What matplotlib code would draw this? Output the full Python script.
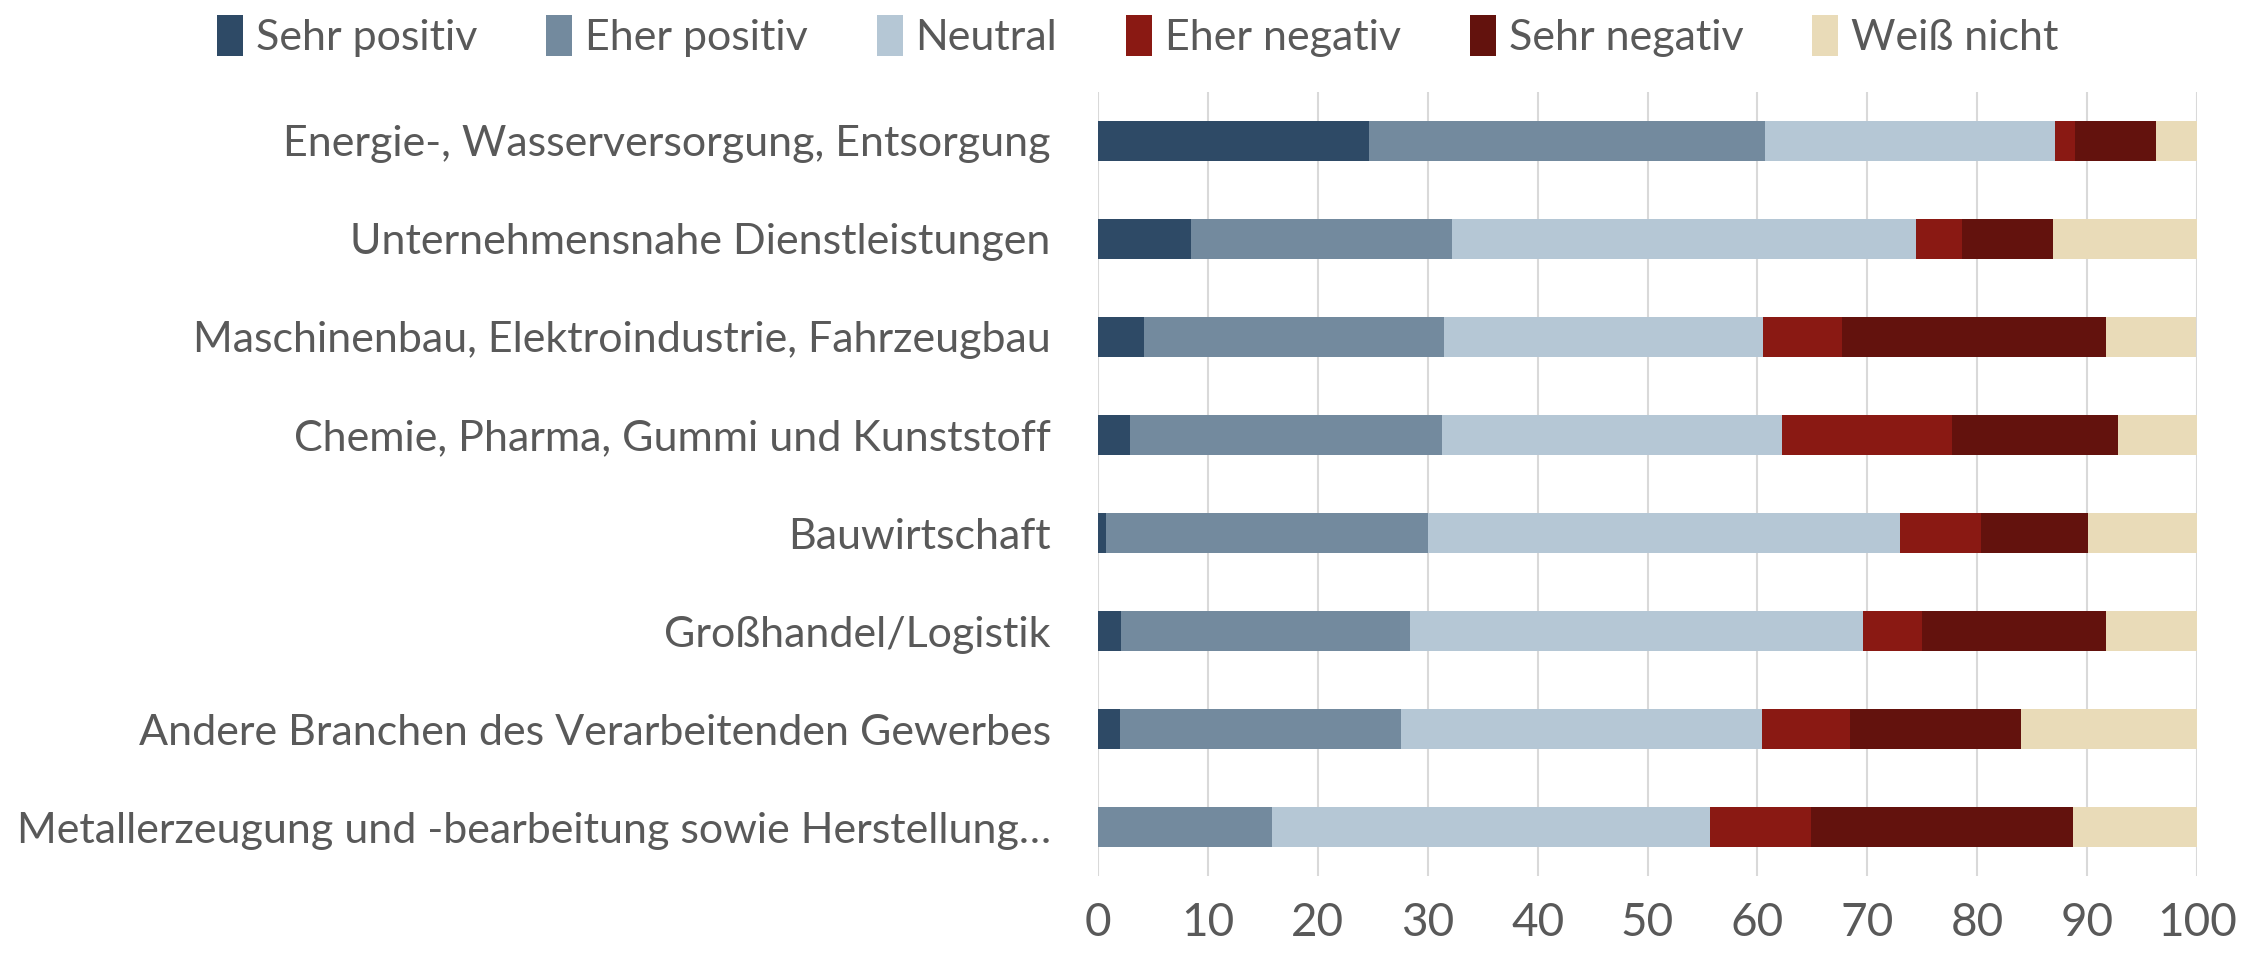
import numpy as np
import matplotlib
matplotlib.use("Agg")
import matplotlib.pyplot as plt

plt.rcParams["font.family"] = ["Lato", "DejaVu Sans"]

categories = [
    "Energie-, Wasserversorgung, Entsorgung",
    "Unternehmensnahe Dienstleistungen",
    "Maschinenbau, Elektroindustrie, Fahrzeugbau",
    "Chemie, Pharma, Gummi und Kunststoff",
    "Bauwirtschaft",
    "Großhandel/Logistik",
    "Andere Branchen des Verarbeitenden Gewerbes",
    "Metallerzeugung und -bearbeitung sowie Herstellung…",
]
series_names = ["Sehr positiv", "Eher positiv", "Neutral", "Eher negativ", "Sehr negativ", "Weiß nicht"]

sehr_positiv = [24.7, 8.5, 4.2, 2.9, 0.7, 2.1, 2.0, 0.0]
eher_positiv = [36.0, 23.7, 27.3, 28.4, 29.3, 26.3, 25.6, 15.8]
neutral = [26.4, 42.2, 29.0, 30.9, 43.0, 41.2, 32.8, 39.9]
eher_negativ = [1.8, 4.2, 7.2, 15.5, 7.3, 5.4, 8.0, 9.2]
sehr_negativ = [7.4, 8.3, 24.0, 15.1, 9.8, 16.7, 15.6, 23.8]
weiss_nicht = [3.7, 13.1, 8.2, 7.2, 9.9, 8.3, 16.0, 11.3]

xticks = list(range(0, 101, 10))

colors = ["#2e4a66", "#738a9e", "#b5c7d5", "#8a1913", "#63120d", "#e9dbb8"]
text_color = "#595959"

fig = plt.figure(figsize=(22.62, 9.57), dpi=100)
ax = fig.add_axes([0.4854, 0.0846, 0.4859, 0.8193])

series = [sehr_positiv, eher_positiv, neutral, eher_negativ, sehr_negativ, weiss_nicht]
y = np.arange(len(categories))
left = np.zeros(len(categories))
for name, vals, c in zip(series_names, series, colors):
    vals = np.array(vals)
    ax.barh(y, vals, left=left, height=0.405, color=c, label=name, zorder=3)
    left += vals

ax.set_ylim(len(categories) - 0.5, -0.5)
ax.set_xlim(0, 100)
ax.set_xticks(xticks)
ax.set_yticks(y)
ax.set_yticklabels(categories)
ax.tick_params(axis="y", length=0, pad=34, labelsize=31, labelcolor=text_color)
ax.tick_params(axis="x", length=0, pad=19, labelsize=33, labelcolor=text_color)
ax.grid(axis="x", color="#d9d9d9", linewidth=1.5, zorder=0)
for s in ax.spines.values():
    s.set_visible(False)

fig.legend(loc="upper center", bbox_to_anchor=(0.503, 1.025), ncol=6, frameon=False,
           fontsize=31, labelcolor=text_color, handlelength=0.6, handleheight=1.1,
           handletextpad=0.3, columnspacing=1.6)

fig.savefig("out.png", dpi=100)
